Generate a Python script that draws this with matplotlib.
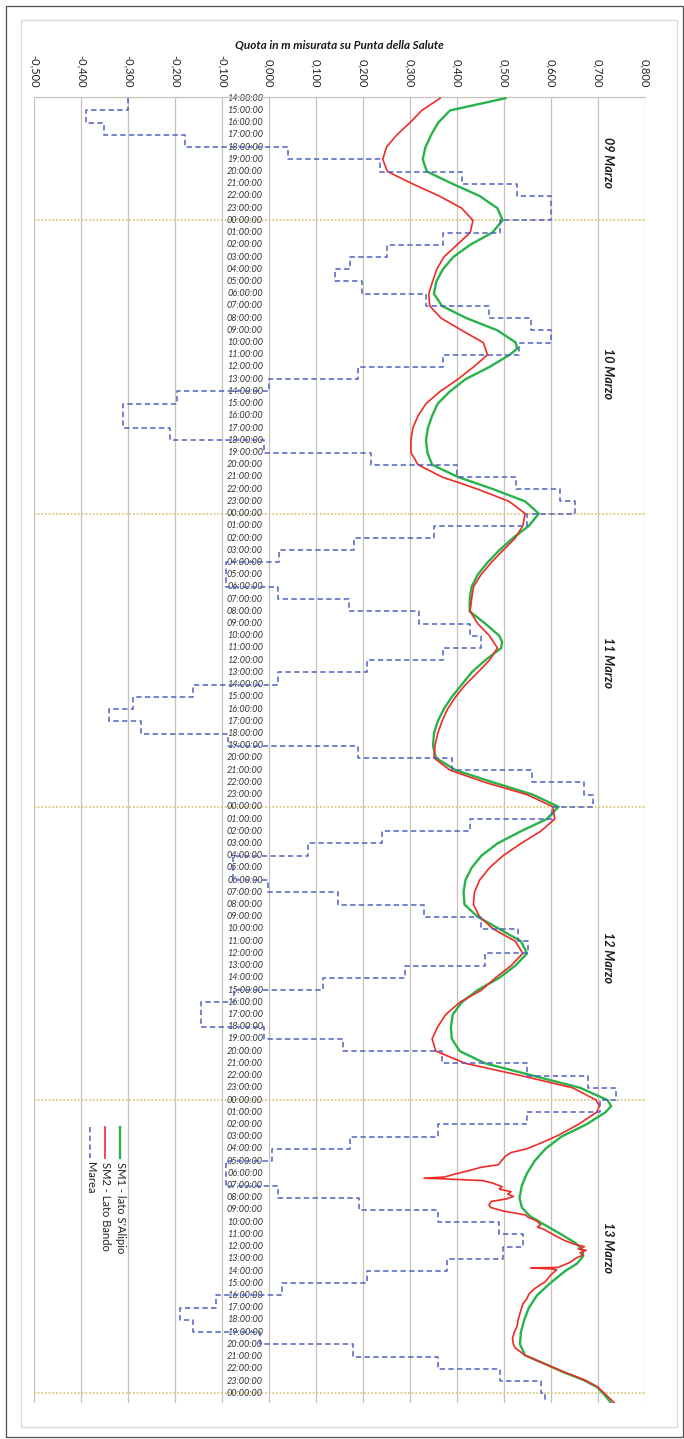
import numpy as np
import matplotlib
matplotlib.use("Agg")
import matplotlib.pyplot as plt
from matplotlib.lines import Line2D
from matplotlib.patches import Rectangle

plt.rcParams['font.family'] = ['Lato', 'DejaVu Sans']

# ---- data: hours counted from 09 March 00:00 ----
sm1_hours = [14, 15, 16, 17, 18, 19, 20, 21, 22, 23,
             24, 25, 26, 27, 28, 29, 30, 31, 32, 33, 34, 34.5, 35, 36, 37, 38, 39, 40, 41, 42, 43, 44, 45, 46, 47,
             48, 49, 50, 51, 52, 53, 54, 55, 56, 57, 58, 58.5, 59, 60, 61, 62, 63, 64, 65, 66, 67, 68, 69, 70, 71,
             72, 73, 74, 75, 76, 77, 78, 79, 80, 81, 82, 83, 84, 85, 86, 87, 88, 89, 90, 91, 92, 93, 94, 95,
             96, 96.5, 97, 98, 99, 100, 101, 102, 103, 104, 104.8, 105.5, 106.3, 107, 107.7, 108.3, 108.8,
             109.4, 110, 111, 112, 113, 114, 115, 116, 116.9, 117.6, 118.3, 118.9, 119.5, 120.1, 120.8]
sm1_vals = [0.503, 0.385, 0.360, 0.345, 0.333, 0.327, 0.336, 0.390, 0.448, 0.486,
            0.497, 0.475, 0.428, 0.392, 0.370, 0.356, 0.351, 0.368, 0.420, 0.486, 0.525, 0.528, 0.512, 0.469,
            0.418, 0.385, 0.359, 0.347, 0.338, 0.334, 0.337, 0.347, 0.402, 0.477, 0.545,
            0.574, 0.553, 0.519, 0.490, 0.465, 0.444, 0.431, 0.427, 0.427, 0.460, 0.490, 0.496, 0.494, 0.460,
            0.431, 0.410, 0.389, 0.372, 0.359, 0.351, 0.349, 0.355, 0.397, 0.477, 0.561,
            0.616, 0.591, 0.536, 0.486, 0.452, 0.431, 0.418, 0.414, 0.416, 0.444, 0.490, 0.536, 0.549, 0.524,
            0.490, 0.444, 0.410, 0.391, 0.387, 0.389, 0.406, 0.460, 0.561, 0.662,
            0.720, 0.728, 0.716, 0.675, 0.622, 0.588, 0.565, 0.549, 0.538, 0.533, 0.538, 0.555, 0.590, 0.622,
            0.652, 0.668, 0.668, 0.655, 0.630, 0.598, 0.570, 0.553, 0.543, 0.536, 0.534, 0.545, 0.587, 0.628,
            0.668, 0.698, 0.713, 0.728]

sm2_hours = [14, 15, 16, 17, 18, 19, 20, 21, 22, 23,
             24, 25, 26, 27, 28, 29, 30, 31, 32, 33, 34, 35, 36, 37, 38, 39, 40, 41, 42, 43, 44, 45, 46, 47,
             48, 49, 50, 51, 52, 53, 54, 55, 56, 57, 58, 59, 60, 61, 62, 63, 64, 65, 66, 67, 68, 69, 70, 71,
             72, 73, 74, 75, 76, 77, 78, 79, 80, 81, 82, 83, 84, 85, 86, 87, 88, 89, 90, 91, 92, 93, 94, 95,
             96, 96.5, 97, 98, 98.9, 99.5, 100, 100.3, 100.6, 101, 101.3, 101.5, 101.8, 102.1, 102.3, 102.4,
             102.45, 102.6, 102.8, 103.1, 103.3, 103.5, 103.7, 103.9, 104.1, 104.3, 104.6, 104.8, 105.1, 105.4,
             105.6, 105.9, 106.2, 106.4, 106.6, 107.0, 107.5, 107.8, 108.0, 108.2, 108.3, 108.5, 108.7, 108.9,
             109.3, 109.7, 109.75, 109.82, 109.9, 110.3, 110.9, 111.1, 111.5, 111.9, 112.3, 112.7, 113.2,
             114.0, 114.5, 115.0, 115.5, 116.0, 116.3, 116.9, 117.6, 118.3, 118.9, 119.5, 120.1, 120.8]
sm2_vals = [0.364, 0.325, 0.300, 0.272, 0.250, 0.242, 0.252, 0.305, 0.362, 0.410,
            0.434, 0.428, 0.400, 0.372, 0.357, 0.348, 0.340, 0.342, 0.366, 0.410, 0.456, 0.465, 0.435, 0.402,
            0.364, 0.334, 0.317, 0.306, 0.302, 0.302, 0.317, 0.368, 0.444, 0.511,
            0.545, 0.540, 0.524, 0.498, 0.473, 0.451, 0.435, 0.431, 0.428, 0.444, 0.469, 0.486, 0.469, 0.444,
            0.418, 0.397, 0.380, 0.368, 0.359, 0.353, 0.351, 0.385, 0.460, 0.549,
            0.604, 0.608, 0.578, 0.536, 0.498, 0.469, 0.448, 0.437, 0.435, 0.448, 0.477, 0.524, 0.540, 0.515,
            0.482, 0.452, 0.406, 0.376, 0.359, 0.347, 0.355, 0.418, 0.536, 0.646,
            0.696, 0.703, 0.697, 0.658, 0.615, 0.580, 0.548, 0.515, 0.503, 0.494, 0.488, 0.452, 0.423, 0.392,
            0.374, 0.330, 0.370, 0.455, 0.476, 0.496, 0.490, 0.515, 0.508, 0.520, 0.505, 0.473, 0.468, 0.472,
            0.500, 0.545, 0.552, 0.570, 0.578, 0.571, 0.586, 0.604, 0.629, 0.650, 0.671, 0.658, 0.675, 0.662,
            0.668, 0.655, 0.640, 0.615, 0.557, 0.600, 0.612, 0.600, 0.587, 0.578, 0.563, 0.553, 0.548, 0.540,
            0.536, 0.530, 0.528, 0.522, 0.518, 0.520, 0.524, 0.545, 0.587, 0.630, 0.671, 0.700, 0.716, 0.735]

# hourly tide level, one value per hour starting at 09 March 14:00
tide_start_hour = 14
tide_vals = [-0.301, -0.390, -0.352, -0.179, 0.040, 0.237, 0.410, 0.528, 0.599, 0.599,
             0.492, 0.370, 0.252, 0.172, 0.141, 0.198, 0.334, 0.469, 0.557, 0.599, 0.532, 0.370,
             0.189, 0.000, -0.196, -0.310, -0.310, -0.210, -0.011, 0.218, 0.400, 0.526, 0.619, 0.650,
             0.549, 0.351, 0.181, 0.021, -0.091, -0.091, 0.019, 0.170, 0.320, 0.427, 0.450, 0.370,
             0.208, 0.019, -0.162, -0.290, -0.341, -0.272, -0.087, 0.189, 0.389, 0.560, 0.671, 0.689,
             0.602, 0.427, 0.240, 0.082, -0.076, -0.076, -0.003, 0.147, 0.330, 0.450, 0.529, 0.551,
             0.459, 0.290, 0.114, -0.074, -0.145, -0.145, -0.010, 0.157, 0.368, 0.549, 0.679, 0.738,
             0.705, 0.549, 0.359, 0.173, 0.006, -0.091, -0.091, 0.019, 0.191, 0.359, 0.490, 0.540,
             0.498, 0.378, 0.208, 0.027, -0.112, -0.189, -0.162, -0.019, 0.178, 0.359, 0.492, 0.578, 0.588]

value_ticks = [-0.5, -0.4, -0.3, -0.2, -0.1, 0.0, 0.1, 0.2, 0.3, 0.4, 0.5, 0.6, 0.7, 0.8]
value_labels = ["-0,500", "-0,400", "-0,300", "-0,200", "-0,100", "0,000", "0,100", "0,200",
                "0,300", "0,400", "0,500", "0,600", "0,700", "0,800"]
hour_ticks = list(range(14, 121))
hour_labels = [f"{h % 24:02d}:00:00" for h in hour_ticks]
day_breaks = [24, 48, 72, 96, 120]
day_names = ["09 Marzo", "10 Marzo", "11 Marzo", "12 Marzo", "13 Marzo"]
day_name_hours = [19.3, 36.5, 60.2, 84.3, 108.1]

series_names = ["SM1 - lato S'Alipio", "SM2 - Lato Bando", "Marea"]

# ---- styling ----
GREEN = '#27b34a'
RED = '#ee2b26'
BLUE = '#5060c4'
GRID = '#c9c1b9'
DAYLINE = '#d2c268'
W, H = 684, 1439


def fx(px):
    return px / W


def fy(py):
    return 1 - py / H


fig = plt.figure(figsize=(W / 100, H / 100), dpi=100)
fig.patch.set_facecolor('white')

# chart frame
fig.add_artist(Rectangle((fx(5.5), fy(1437)), fx(683) - fx(5.5), fy(5.5) - fy(1437),
                         transform=fig.transFigure, fill=False, edgecolor='#505050', lw=0.9))
fig.add_artist(Rectangle((fx(21), fy(1427)), fx(677) - fx(21), fy(20) - fy(1427),
                         transform=fig.transFigure, fill=False, edgecolor='#d6d6d6', lw=0.9))

ax = fig.add_axes([fx(34), fy(1403), fx(645) - fx(34), fy(97) - fy(1403)])
ax.set_xlim(-0.5, 0.8)
ax.set_ylim(120.8, 13.9)

for s in ['left', 'right', 'bottom']:
    ax.spines[s].set_visible(False)
ax.spines['top'].set_color(GRID)
ax.spines['top'].set_linewidth(0.9)

ax.set_xticks(value_ticks)
ax.set_xticklabels(value_labels)
ax.xaxis.tick_top()
ax.tick_params(axis='x', length=0, pad=7, labelsize=8, labelrotation=-90, labelcolor='#222222')
ax.set_yticks([])
ax.grid(axis='x', color=GRID, lw=0.9, zorder=0)

for h in day_breaks:
    ax.axhline(h, color=DAYLINE, lw=1.1, ls=(0, (1.2, 1.2)), zorder=1)

# hour labels along the zero line
for h, lab in zip(hour_ticks, hour_labels):
    ax.text(-0.013, h, lab, ha='right', va='center', fontsize=6.6, fontstyle='italic',
            color='#333333', zorder=2)

for h, name in zip(day_name_hours, day_names):
    ax.text(0.722, h, name, rotation=-90, ha='center', va='center', fontsize=9,
            fontweight='bold', fontstyle='italic', color='#1a1a1a', zorder=2)

# series
ax.plot(sm1_vals, sm1_hours, color=GREEN, lw=1.7, zorder=3, solid_joinstyle='round')
ax.plot(sm2_vals, sm2_hours, color=RED, lw=1.2, zorder=4, solid_joinstyle='round')

edges = np.arange(tide_start_hour, tide_start_hour + len(tide_vals) + 1, dtype=float)
tide_y = np.repeat(edges, 2)[1:-1]
tide_x = np.repeat(np.array(tide_vals), 2)
ax.plot(tide_x, tide_y, color=BLUE, lw=1.1, ls=(0, (3.5, 2.2)), zorder=5)

# title
fig.text(fx(339), fy(45), 'Quota in m misurata su Punta della Salute', ha='center', va='center',
         fontsize=8.5, fontweight='bold', fontstyle='italic', color='#1a1a1a')

# legend drawn vertically
legend_x = [120, 105, 90]
legend_styles = [dict(color=GREEN, lw=1.7, ls='-'),
                 dict(color=RED, lw=1.2, ls='-'),
                 dict(color=BLUE, lw=1.1, ls=(0, (3.5, 2.2)))]
for x, name, st in zip(legend_x, series_names, legend_styles):
    fig.add_artist(Line2D([fx(x), fx(x)], [fy(1127), fy(1158)], transform=fig.transFigure, **st))
    fig.text(fx(x), fy(1162), name, rotation=-90, ha='center', va='top', fontsize=8,
             color='#222222')

fig.savefig('out.png', dpi=100, facecolor='white')
